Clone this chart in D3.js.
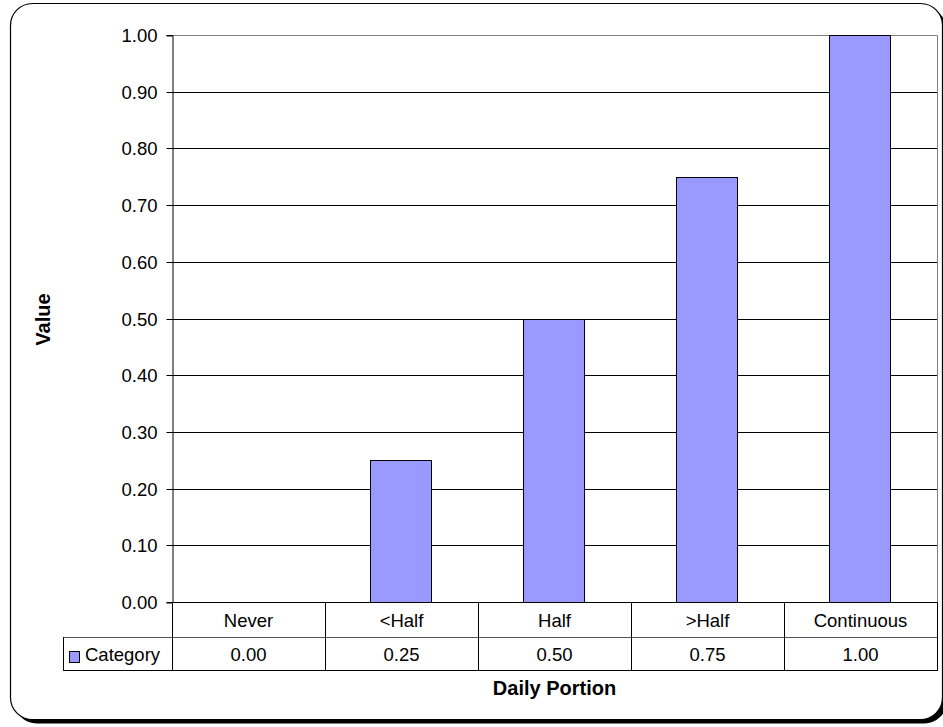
<!DOCTYPE html>
<html><head><meta charset="utf-8">
<script src="https://cdn.jsdelivr.net/npm/d3@7"></script>
<style>
html,body{margin:0;padding:0;background:#fff;}
text{font-family:"Liberation Sans",Arial,sans-serif;fill:#000;}
</style></head>
<body>
<svg id="c" width="943" height="727"></svg>
<script>
const categories = ["Never", "<Half", "Half", ">Half", "Continuous"];
const values = [0.00, 0.25, 0.50, 0.75, 1.00];
const yTicks = [0, 0.1, 0.2, 0.3, 0.4, 0.5, 0.6, 0.7, 0.8, 0.9, 1.0];
const seriesName = "Category";
const xTitle = "Daily Portion";
const yTitle = "Value";

const svg = d3.select("#c");
const L = 172, R = 937, T = 35, B = 602;
const row1 = 637, row2 = 670, legendLeft = 63;
const barColor = "#9999FF";
const fs = "18.5px", fsb = "20px";

// outer frame with shadow
svg.append("rect").attr("x", 14.5).attr("y", 7.5).attr("width", 932).attr("height", 716)
  .attr("rx", 22).attr("fill", "#000");
svg.append("rect").attr("x", 10.5).attr("y", 3.5).attr("width", 932).attr("height", 716)
  .attr("rx", 22).attr("fill", "#fff").attr("stroke", "#000").attr("stroke-width", 1.2);

const y = d3.scaleLinear().domain([0, 1]).range([B, T]);
const xCol = d3.scaleBand().domain(categories).range([L, R]).padding(0);
const xBar = d3.scaleBand().domain(categories).range([L, R]).paddingInner(0.61).paddingOuter(0.305);

// gridlines
svg.append("g").selectAll("line").data(yTicks.filter(d => d > 0 && d < 1)).join("line")
  .attr("x1", L).attr("x2", R)
  .attr("y1", d => Math.round(y(d)) + 0.5).attr("y2", d => Math.round(y(d)) + 0.5)
  .attr("stroke", "#000").attr("stroke-width", 1);

// plot border top & right (gray)
svg.append("path").attr("d", `M${L},${T + 0.5}H${R + 0.5}V${B}`)
  .attr("fill", "none").attr("stroke", "#808080").attr("stroke-width", 1);

// bars
svg.append("g").selectAll("rect").data(categories.map((c, i) => ({c, v: values[i]})).filter(d => d.v > 0)).join("rect")
  .attr("x", d => Math.round(xBar(d.c)) - 1.5)
  .attr("y", d => Math.round(y(d.v)) + 0.5)
  .attr("width", Math.round(xBar.bandwidth()) + 1)
  .attr("height", d => Math.round(y(0)) - Math.round(y(d.v)))
  .attr("fill", barColor).attr("stroke", "#000").attr("stroke-width", 1);

// y axis
const yAxis = d3.axisLeft(y).tickValues(yTicks).tickFormat(d3.format(".2f")).tickSize(6).tickPadding(9);
const gy = svg.append("g").attr("transform", `translate(${L + 0.5},0.5)`).call(yAxis);
gy.select(".domain").attr("stroke", "#000");
gy.selectAll(".tick line").attr("stroke", "#000");
gy.selectAll(".tick text").style("font-size", fs).attr("dy", "0.35em");
gy.selectAll(".tick").attr("transform", d => `translate(0,${Math.round(y(d))})`);

// x axis baseline
svg.append("line").attr("x1", L).attr("x2", R + 0.5).attr("y1", B + 0.5).attr("y2", B + 0.5)
  .attr("stroke", "#000");

// data table
const tg = svg.append("g");
tg.append("line").attr("x1", legendLeft).attr("x2", R + 0.5).attr("y1", row1 + 0.5).attr("y2", row1 + 0.5)
  .attr("stroke", "#555");
tg.append("line").attr("x1", legendLeft).attr("x2", R + 0.5).attr("y1", row2 + 0.5).attr("y2", row2 + 0.5)
  .attr("stroke", "#000");
tg.append("line").attr("x1", legendLeft + 0.5).attr("x2", legendLeft + 0.5).attr("y1", row1).attr("y2", row2 + 1)
  .attr("stroke", "#000");
const bounds = categories.map(c => xCol(c)).concat([R]);
tg.selectAll("line.v").data(bounds).join("line").attr("class", "v")
  .attr("x1", d => Math.round(d) + 0.5).attr("x2", d => Math.round(d) + 0.5)
  .attr("y1", B).attr("y2", row2 + 1).attr("stroke", "#000");
tg.selectAll("text.cat").data(categories).join("text").attr("class", "cat")
  .attr("x", d => xCol(d) + xCol.bandwidth() / 2).attr("y", (B + row1) / 2 + 1)
  .attr("text-anchor", "middle").attr("dominant-baseline", "central")
  .style("font-size", fs).text(d => d);
tg.selectAll("text.val").data(values).join("text").attr("class", "val")
  .attr("x", (d, i) => xCol(categories[i]) + xCol.bandwidth() / 2).attr("y", (row1 + row2) / 2 + 1)
  .attr("text-anchor", "middle").attr("dominant-baseline", "central")
  .style("font-size", fs).text(d => d3.format(".2f")(d));
// legend key
tg.append("rect").attr("x", 69.5).attr("y", 651.5).attr("width", 10).attr("height", 11)
  .attr("fill", barColor).attr("stroke", "#000").attr("stroke-width", 1);
tg.append("text").attr("x", 85).attr("y", (row1 + row2) / 2 + 1).attr("dominant-baseline", "central")
  .style("font-size", fs).text(seriesName);

// titles
svg.append("text").attr("x", (L + R) / 2).attr("y", 695).attr("text-anchor", "middle")
  .style("font-size", fsb).style("font-weight", "bold").text(xTitle);
svg.append("text").attr("transform", `translate(50,${(T + B) / 2 + 1}) rotate(-90)`).attr("text-anchor", "middle")
  .style("font-size", fsb).style("font-weight", "bold").text(yTitle);
</script>
</body></html>
